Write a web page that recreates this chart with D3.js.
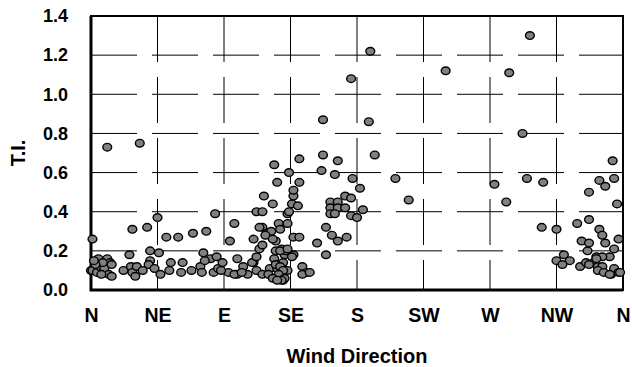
<!DOCTYPE html>
<html>
<head>
<meta charset="utf-8">
<script src="https://cdn.jsdelivr.net/npm/d3@7"></script>
<style>
  body { margin: 0; background: #fff; }
  text { font-family: "Liberation Sans", Arial, sans-serif; font-weight: bold; fill: #000; }
</style>
</head>
<body>
<svg id="chart"></svg>
<script>
// tick labels
const dirLabels = ['N', 'NE', 'E', 'SE', 'S', 'SW', 'W', 'NW', 'N'];
const dirTicks = [0, 45, 90, 135, 180, 225, 270, 315, 360];
const tiTicks = [0, 0.2, 0.4, 0.6, 0.8, 1.0, 1.2, 1.4];

// wind direction (deg) and turbulence intensity
const windDir = [
  1, 11, 0, 1, 4, 5, 6, 9, 11, 13, 14, 12, 14, 8, 3, 2, 7,
  22, 26, 27, 28, 30, 28, 31, 33, 35, 38, 40, 40, 39, 43, 46, 45, 47, 51, 59, 69, 54, 53, 62, 61, 68, 74, 75,
  76, 78, 81, 84, 85, 83, 86, 89, 93, 94, 97, 99, 99, 103, 106, 88, 77, 97, 102,
  110, 110, 112, 112, 116, 114, 116, 117, 116, 119, 123, 122, 121, 120, 125, 124, 126, 127, 128, 126,
  133, 133, 129, 131, 129, 129, 127, 130, 137, 136, 140, 137, 141, 137, 141, 133, 137, 134, 136, 109,
  112, 130, 114, 118, 123, 116, 125, 132, 124, 134, 141, 125, 128, 130, 127, 131, 129, 123, 126, 143,
  146, 143, 128, 133,
  148, 153, 156, 157, 157, 159, 159, 163, 167, 173, 165, 167, 176, 177, 182, 189, 188, 192,
  162, 167, 172, 176, 162, 167, 172, 162, 165, 176, 180, 184,
  206, 215, 240, 273, 281, 283, 292, 297, 295, 306, 305, 315, 315, 320, 324, 319, 331, 329, 337, 332,
  337, 336, 344, 346, 348, 357, 354, 351, 342, 346, 340, 343, 346, 343, 347, 352, 354, 357, 335, 344,
  348, 354, 337, 356, 353, 337, 342, 351, 358
];
const tiVals = [
  0.26, 0.73, 0.10, 0.10, 0.09, 0.16, 0.12, 0.11, 0.16, 0.14, 0.13, 0.08, 0.07, 0.14, 0.13, 0.15, 0.08,
  0.10, 0.18, 0.12, 0.09, 0.07, 0.31, 0.12, 0.75, 0.10, 0.32, 0.20, 0.15, 0.13, 0.11, 0.19, 0.37, 0.08, 0.27, 0.27, 0.29, 0.14, 0.10, 0.14, 0.09, 0.10, 0.12, 0.09,
  0.19, 0.30, 0.16, 0.39, 0.17, 0.09, 0.11, 0.14, 0.09, 0.25, 0.34, 0.16, 0.08, 0.12, 0.08, 0.10, 0.15, 0.08, 0.09,
  0.26, 0.14, 0.40, 0.10, 0.08, 0.21, 0.40, 0.48, 0.32, 0.29, 0.44, 0.30, 0.11, 0.08, 0.25, 0.16, 0.11, 0.34, 0.31, 0.55,
  0.34, 0.39, 0.21, 0.18, 0.12, 0.08, 0.06, 0.05, 0.48, 0.44, 0.43, 0.27, 0.27, 0.18, 0.55, 0.10, 0.51, 0.40, 0.17, 0.14,
  0.17, 0.14, 0.32, 0.28, 0.26, 0.23, 0.20, 0.20, 0.64, 0.60, 0.67, 0.13, 0.12, 0.10, 0.08, 0.06, 0.05, 0.06, 0.05, 0.12,
  0.09, 0.08, 0.20, 0.21,
  0.09, 0.24, 0.61, 0.87, 0.69, 0.32, 0.18, 0.28, 0.25, 0.27, 0.59, 0.66, 1.08, 0.57, 0.52, 1.22, 0.86, 0.69,
  0.45, 0.45, 0.48, 0.47, 0.42, 0.42, 0.42, 0.39, 0.39, 0.38, 0.37, 0.41,
  0.57, 0.46, 1.12, 0.54, 0.45, 1.11, 0.80, 1.30, 0.57, 0.55, 0.32, 0.31, 0.15, 0.18, 0.15, 0.13, 0.12, 0.34, 0.36, 0.25,
  0.24, 0.20, 0.31, 0.28, 0.24, 0.26, 0.21, 0.17, 0.17, 0.17, 0.14, 0.12, 0.12, 0.10, 0.09, 0.08, 0.11, 0.09, 0.14, 0.56,
  0.53, 0.57, 0.50, 0.44, 0.66, 0.13, 0.16, 0.08, 0.09
];

const width = 632, height = 367;
const margin = { top: 16, right: 9, bottom: 77, left: 91 };
const plotW = width - margin.left - margin.right;
const plotH = height - margin.top - margin.bottom;

const svg = d3.select('#chart')
  .attr('width', width)
  .attr('height', height);

const g = svg.append('g')
  .attr('transform', `translate(${margin.left},${margin.top})`);

const x = d3.scaleLinear().domain([0, 360]).range([0, plotW]);
const y = d3.scaleLinear().domain([0, 1.4]).range([plotH, 0]);

// broken gridlines
g.selectAll('.hgrid')
  .data(tiTicks.slice(1, -1))
  .enter()
  .append('line')
  .attr('x1', 0)
  .attr('x2', plotW)
  .attr('y1', d => y(d))
  .attr('y2', d => y(d))
  .attr('stroke', '#000')
  .attr('stroke-width', 1)
  .attr('stroke-dasharray', '46,15');

g.selectAll('.vgrid')
  .data(dirTicks.slice(1, -1))
  .enter()
  .append('line')
  .attr('x1', d => x(d))
  .attr('x2', d => x(d))
  .attr('y1', 0)
  .attr('y2', plotH)
  .attr('stroke', '#000')
  .attr('stroke-width', 1)
  .attr('stroke-dasharray', '46,15');

// frame
g.append('rect')
  .attr('width', plotW)
  .attr('height', plotH)
  .attr('fill', 'none')
  .attr('stroke', '#000')
  .attr('stroke-width', 2);
g.append('path')
  .attr('d', `M0,0V${plotH}H${plotW}`)
  .attr('fill', 'none')
  .attr('stroke', '#000')
  .attr('stroke-width', 3);

// axes (labels only)
const yAxis = g.append('g')
  .call(d3.axisLeft(y).tickValues(tiTicks).tickFormat(d3.format('.1f')).tickSize(0).tickPadding(23));
yAxis.select('.domain').remove();
yAxis.selectAll('text')
  .attr('font-size', '18px')
  .attr('font-family', '"Liberation Sans", Arial, sans-serif')
  .attr('font-weight', 'bold');

const xAxis = g.append('g')
  .attr('transform', `translate(0,${plotH})`)
  .call(d3.axisBottom(x).tickValues(dirTicks).tickFormat((d, i) => dirLabels[i]).tickSize(0).tickPadding(18));
xAxis.select('.domain').remove();
xAxis.selectAll('text')
  .attr('font-size', '19.5px')
  .attr('font-family', '"Liberation Sans", Arial, sans-serif')
  .attr('font-weight', 'bold');

// points
g.selectAll('.pt')
  .data(windDir.map((d, i) => ({ dir: d, ti: tiVals[i] })))
  .enter()
  .append('ellipse')
  .attr('cx', d => x(d.dir))
  .attr('cy', d => y(d.ti))
  .attr('rx', 4.4)
  .attr('ry', 3.8)
  .attr('fill', '#808080')
  .attr('stroke', '#000')
  .attr('stroke-width', 1.4);

// axis titles
svg.append('text')
  .attr('x', margin.left + plotW / 2)
  .attr('y', 363)
  .attr('text-anchor', 'middle')
  .style('font-size', '20px')
  .text('Wind Direction');

svg.append('text')
  .attr('transform', `translate(25,${margin.top + plotH / 2}) rotate(-90)`)
  .attr('text-anchor', 'middle')
  .style('font-size', '20px')
  .text('T.I.');
</script>
</body>
</html>
